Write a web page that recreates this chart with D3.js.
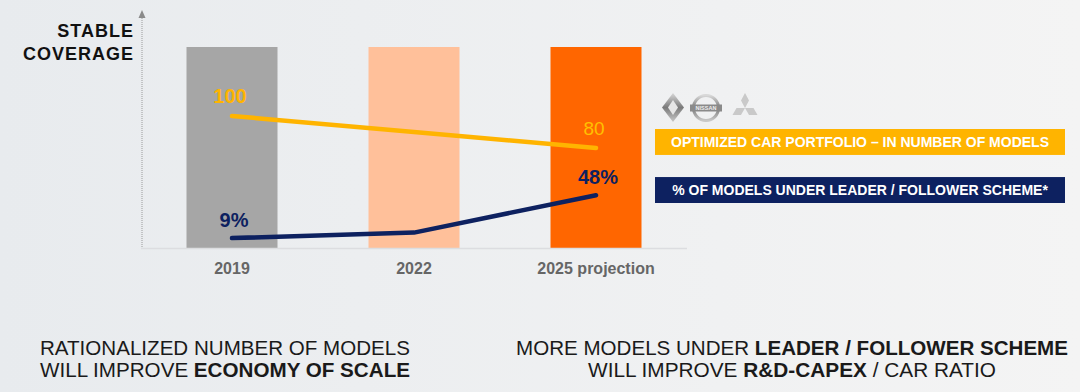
<!DOCTYPE html>
<html><head><meta charset="utf-8">
<script src="https://cdn.jsdelivr.net/npm/d3@7/dist/d3.min.js"></script>
<style>html,body{margin:0;padding:0;overflow:hidden;}svg{display:block;}</style>
</head><body>
<svg id="c" width="1080" height="392"></svg>
<script>
const categories = ["2019", "2022", "2025 projection"];
const coverage = [100, 100, 100];
const modelsIndex = [100, 90, 80];
const leaderShare = [9, 14, 48];
const modelLabels = ["100", "", "80"];
const shareLabels = ["9%", "", "48%"];
const barColors = ["#a6a6a6", "#ffc09a", "#ff6600"];
const legendItems = ["OPTIMIZED CAR PORTFOLIO \u2013 IN NUMBER OF MODELS", "% OF MODELS UNDER LEADER / FOLLOWER SCHEME*"];

const svg = d3.select("#c");
const defs = svg.append("defs");
const bg = defs.append("linearGradient").attr("id","bg").attr("x1","0").attr("x2","1").attr("y1","0").attr("y2","0");
bg.append("stop").attr("offset","0").attr("stop-color","#e8ebee");
bg.append("stop").attr("offset","1").attr("stop-color","#f4f4f4");
svg.append("rect").attr("width",1080).attr("height",392).attr("fill","url(#bg)");

const x = d3.scaleBand().domain(categories).range([141, 687]).paddingInner(0.5).paddingOuter(0.25);
const yBar = d3.scaleLinear().domain([0, 100]).range([248, 47]);
const yShare = d3.scaleLinear().domain([0, 100]).range([248, 138]);
const yModels = d3.scaleLinear().domain([80, 100]).range([148, 116]);
const cx = d => x(d) + x.bandwidth()/2;

// bars
svg.selectAll("rect.bar").data(categories).join("rect").attr("class","bar")
  .attr("x", d => x(d)).attr("width", x.bandwidth())
  .attr("y", (d,i) => yBar(coverage[i])).attr("height", (d,i) => yBar(0) - yBar(coverage[i]))
  .attr("fill", (d,i) => barColors[i]);

// baseline
svg.append("line").attr("x1",141).attr("x2",687).attr("y1",yBar(0)+0.5).attr("y2",yBar(0)+0.5)
  .attr("stroke","#dcdde0").attr("stroke-width",1.5);
// y axis dotted with arrow
svg.append("line").attr("x1",142).attr("x2",142).attr("y1",18).attr("y2",yBar(0))
  .attr("stroke","#9a9a9a").attr("stroke-width",1).attr("stroke-dasharray","1,1");
svg.append("path").attr("d","M142,10 L138.5,18 L145.5,18 Z").attr("fill","#8a8a8a");

// x axis labels
const xAxis = d3.axisBottom(x).tickSize(0).tickPadding(0);
const gx = svg.append("g").attr("transform",`translate(0,${yBar(0)})`).call(xAxis);
gx.select(".domain").remove();
gx.selectAll("text").attr("dy",null).attr("y",26).attr("fill","#666").attr("font-family","Liberation Sans, Arial, sans-serif")
  .attr("font-weight","bold").attr("font-size",16);

// lines
const lineModels = d3.line().x((d,i) => cx(categories[i])).y(d => yModels(d));
const lineShare = d3.line().x((d,i) => cx(categories[i])).y(d => yShare(d));
svg.append("path").datum(modelsIndex).attr("d", lineModels).attr("fill","none")
  .attr("stroke","#ffb400").attr("stroke-width",4.5).attr("stroke-linecap","round").attr("stroke-linejoin","round");
svg.append("path").datum(leaderShare).attr("d", lineShare).attr("fill","none")
  .attr("stroke","#0d2160").attr("stroke-width",4.5).attr("stroke-linecap","round").attr("stroke-linejoin","round");

// value labels
svg.selectAll("text.ml").data(modelsIndex).join("text").attr("class","ml")
  .attr("x",(d,i)=>cx(categories[i])-2).attr("y",d=>yModels(d)-13)
  .attr("text-anchor","middle").attr("font-family","Liberation Sans, Arial, sans-serif")
  .attr("font-weight",(d,i)=> i===0 ? "bold" : "normal").attr("font-size",(d,i)=> i===0 ? 20 : 19)
  .attr("fill",(d,i)=> i===0 ? "#ffb400" : "#ffc000")
  .text((d,i)=>modelLabels[i]);
svg.selectAll("text.sl").data(leaderShare).join("text").attr("class","sl")
  .attr("x",(d,i)=>cx(categories[i])+2).attr("y",d=>yShare(d)-11)
  .attr("text-anchor","middle").attr("font-family","Liberation Sans, Arial, sans-serif")
  .attr("font-weight","bold").attr("font-size",20).attr("fill","#0d2160")
  .text((d,i)=>shareLabels[i]);

// y title
const yt = svg.append("text").attr("text-anchor","end").attr("font-family","Liberation Sans, Arial, sans-serif")
  .attr("font-weight","bold").attr("font-size",18).attr("letter-spacing",1).attr("fill","#111");
yt.append("tspan").attr("x",134).attr("y",37).text("STABLE");
yt.append("tspan").attr("x",134).attr("y",60).text("COVERAGE");

// logos
const lg = svg.append("g");
const metal = defs.append("linearGradient").attr("id","metal").attr("x1","0").attr("x2","0").attr("y1","0").attr("y2","1");
metal.append("stop").attr("offset","0").attr("stop-color","#d8d8d8");
metal.append("stop").attr("offset","0.5").attr("stop-color","#7a7a7a");
metal.append("stop").attr("offset","1").attr("stop-color","#c8c8c8");
lg.append("path").attr("d","M673,93 L684,107.5 L673,122 L662,107.5 Z").attr("fill","url(#metal)");
lg.append("path").attr("d","M673,100 L678,107.5 L673,115 L668,107.5 Z").attr("fill","#e6e6e6");
lg.append("circle").attr("cx",706).attr("cy",108).attr("r",12.5).attr("fill","none").attr("stroke","url(#metal)").attr("stroke-width",3);
lg.append("rect").attr("x",690).attr("y",104.5).attr("width",32).attr("height",7).attr("fill","#8a8a8a");
lg.append("text").attr("x",706).attr("y",110.3).attr("text-anchor","middle").attr("font-family","Liberation Sans, Arial, sans-serif")
  .attr("font-size",5.5).attr("font-weight","bold").attr("fill","#eee").text("NISSAN");
const mx = 745, my = 108;
lg.append("path").attr("d",`M${mx},${my-15} L${mx+4},${my-7.5} L${mx},${my} L${mx-4},${my-7.5} Z`).attr("fill","#c9c9c9");
lg.append("path").attr("d",`M${mx},${my} L${mx+8.5},${my} L${mx+12.5},${my+7} L${mx+4},${my+7} Z`).attr("fill","#c9c9c9");
lg.append("path").attr("d",`M${mx},${my} L${mx-8.5},${my} L${mx-12.5},${my+7} L${mx-4},${my+7} Z`).attr("fill","#c9c9c9");

// legend boxes
const legColors = ["#ffb400", "#0d2160"];
const legY = d3.scaleBand().domain(legendItems).range([129, 203]).paddingInner(0.46);
svg.selectAll("rect.leg").data(legendItems).join("rect").attr("class","leg")
  .attr("x",655).attr("width",410).attr("y",d=>legY(d)).attr("height",legY.bandwidth()).attr("fill",(d,i)=>legColors[i]);
svg.selectAll("text.leg").data(legendItems).join("text").attr("class","leg")
  .attr("x",860).attr("y",d=>legY(d)+legY.bandwidth()/2+5).attr("text-anchor","middle")
  .attr("font-family","Liberation Sans, Arial, sans-serif").attr("font-weight","bold").attr("font-size",14)
  .attr("fill","#fff").text(d=>d);

// bottom captions
function caption(xc, y, len, parts){
  const t = svg.append("text").attr("x",xc - len/2).attr("y",y)
    .attr("font-family","Liberation Sans, Arial, sans-serif").attr("font-size",19.5)
    .attr("textLength",len).attr("lengthAdjust","spacingAndGlyphs").attr("fill","#1a1a1a");
  parts.forEach(p => t.append("tspan").attr("font-weight",p[1]?"bold":"normal").text(p[0]));
}
caption(225, 355, 370, [["RATIONALIZED NUMBER OF MODELS", false]]);
caption(225, 377, 370, [["WILL IMPROVE ", false], ["ECONOMY OF SCALE", true]]);
caption(792, 355, 552, [["MORE MODELS UNDER ", false], ["LEADER / FOLLOWER SCHEME", true]]);
caption(792, 377, 408, [["WILL IMPROVE ", false], ["R&D-CAPEX", true], [" / CAR RATIO", false]]);
</script>
</body></html>
